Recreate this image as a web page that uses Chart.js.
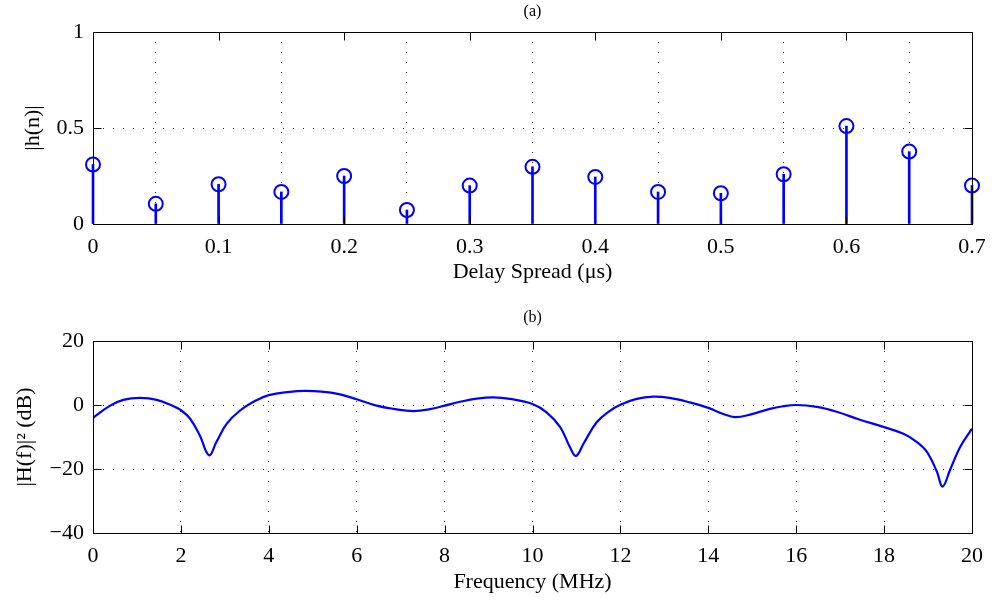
<!DOCTYPE html>
<html>
<head>
<meta charset="utf-8">
<script src="https://cdn.jsdelivr.net/npm/chart.js@4.4.1/dist/chart.umd.min.js"></script>
<style>
  html, body { margin: 0; padding: 0; background: #fff; }
  #wrap { position: relative; width: 996px; height: 601px; }
  .panel { position: absolute; left: 0; width: 996px; }
</style>
</head>
<body>
<div id="wrap">
  <div class="panel" style="top:0;height:300px"><canvas id="impulseChart"></canvas></div>
  <div class="panel" style="top:300px;height:301px"><canvas id="responseChart"></canvas></div>
</div>
<script>
// (a) channel impulse response taps
const delayUs = [0, 0.05, 0.1, 0.15, 0.2, 0.25, 0.3, 0.35, 0.4, 0.45, 0.5, 0.55, 0.6, 0.65, 0.7];
const tapMag = [0.31, 0.105, 0.207, 0.167, 0.25, 0.073, 0.2, 0.298, 0.245, 0.167, 0.16, 0.259, 0.51, 0.377, 0.2];
const delayTicks = [0, 0.1, 0.2, 0.3, 0.4, 0.5, 0.6, 0.7];
const magTicks = [0, 0.5, 1];

// (b) frequency response |H(f)|^2 in dB
const freqMHz = [0, 0.39, 0.69, 1.07, 1.45, 1.83, 2.0, 2.21, 2.43, 2.64, 2.81, 3.04, 3.34, 3.72, 4.0, 4.48, 4.8,
  5.2, 5.6, 6.0, 6.45, 6.83, 7.29, 7.67, 8.0, 8.35, 8.73, 9.11, 9.49, 10.0, 10.32, 10.63, 10.85, 10.99, 11.16, 11.46,
  11.76, 12.0, 12.37, 12.74, 13.12, 13.58, 14.0, 14.34, 14.61, 14.95, 15.4, 15.7, 16.0, 16.47, 16.92, 17.45, 18.0,
  18.44, 18.74, 18.97, 19.2, 19.33, 19.5, 19.73, 20.0];
const gainDb = [-4.0, -0.2, 1.6, 2.2, 1.6, -0.4, -1.6, -4.3, -9.5, -15.7, -11.5, -5.9, -1.8, 1.5, 3.1, 4.1, 4.4,
  4.2, 3.4, 1.8, -0.2, -1.2, -1.9, -1.3, -0.2, 1.0, 2.0, 2.4, 1.9, 0.3, -2.3, -6.9, -13.1, -15.9, -12.1, -5.4,
  -1.8, 0.1, 1.9, 2.6, 2.2, 0.8, -0.9, -2.8, -3.8, -3.0, -1.2, -0.4, 0.0, -0.6, -2.1, -4.6, -6.9,
  -9.0, -11.5, -14.6, -20.8, -25.5, -20.3, -13.1, -7.4];
const freqTicks = [0, 2, 4, 6, 8, 10, 12, 14, 16, 18, 20];
const dbTicks = [-40, -20, 0, 20];

const BLUE = '#0000ff';
const FONT = 'Liberation Serif';

// box round the plot area with inward ticks, plus the (a)/(b) label
const matlabFrame = {
  id: 'matlabFrame',
  afterDraw(chart, args, opts) {
    const { ctx, chartArea: a, scales } = chart;
    const L = Math.round(a.left) + 0.5, R = Math.round(a.right) + 0.5;
    const T = Math.round(a.top) + 0.5, B = Math.round(a.bottom) + 0.5;
    const len = 8;
    ctx.save();
    ctx.strokeStyle = '#000';
    ctx.lineWidth = 1;
    ctx.strokeRect(L, T, R - L, B - T);
    ctx.beginPath();
    scales.x.ticks.forEach(t => {
      const px = Math.round(scales.x.getPixelForValue(t.value)) + 0.5;
      ctx.moveTo(px, B); ctx.lineTo(px, B - len);
      ctx.moveTo(px, T); ctx.lineTo(px, T + len);
    });
    scales.y.ticks.forEach(t => {
      const py = Math.round(scales.y.getPixelForValue(t.value)) + 0.5;
      ctx.moveTo(L, py); ctx.lineTo(L + len, py);
      ctx.moveTo(R, py); ctx.lineTo(R - len, py);
    });
    ctx.stroke();
    ctx.fillStyle = '#000';
    ctx.font = '16px "' + FONT + '"';
    ctx.textAlign = 'center';
    ctx.textBaseline = 'middle';
    ctx.fillText(opts.label, (a.left + a.right) / 2, opts.labelY);
    ctx.restore();
  }
};

function axis(min, max, tickList, titleText, titlePad, size, isX) {
  return {
    type: 'linear',
    min: min,
    max: max,
    offset: false,
    afterBuildTicks: s => { s.ticks = tickList.map(v => ({ value: v })); },
    afterFit: s => { if (isX) s.height = size; else s.width = size; },
    grid: { color: '#333', lineWidth: 1, drawTicks: false },
    border: { display: false, dash: [1, 9] },
    ticks: {
      color: '#000',
      padding: isX ? 10 : 9,
      font: { family: FONT, size: 22 },
      callback: v => String(Math.round(v * 100) / 100).replace('-', '\u2212')
    },
    title: {
      display: true,
      text: titleText,
      color: '#000',
      font: { family: FONT, size: 22 },
      padding: isX ? { top: 0, bottom: titlePad } : { top: titlePad, bottom: 0 }
    }
  };
}

new Chart(document.getElementById('impulseChart'), {
  type: 'scatter',
  data: {
    datasets: [{
      type: 'bar',
      data: delayUs.map((d, i) => ({ x: d, y: tapMag[i] })),
      backgroundColor: BLUE,
      barThickness: 2,
      borderWidth: 0,
      clip: false,
      order: 2
    }, {
      type: 'scatter',
      data: delayUs.map((d, i) => ({ x: d, y: tapMag[i] })),
      pointRadius: 7,
      pointBorderWidth: 2,
      pointBorderColor: BLUE,
      pointBackgroundColor: 'rgba(0,0,0,0)',
      clip: false,
      order: 1
    }]
  },
  options: {
    responsive: true,
    maintainAspectRatio: false,
    animation: false,
    layout: { padding: { top: 32, right: 24, left: 0, bottom: 0 } },
    plugins: {
      legend: { display: false },
      tooltip: { enabled: false },
      matlabFrame: { label: '(a)', labelY: 12 }
    },
    scales: {
      x: axis(0, 0.7, delayTicks, 'Delay Spread (\u03bcs)', 15, 76, true),
      y: axis(0, 1, magTicks, '|h(n)|', 20, 93, false)
    }
  },
  plugins: [matlabFrame]
});

new Chart(document.getElementById('responseChart'), {
  type: 'scatter',
  data: {
    datasets: [{
      data: freqMHz.map((f, i) => ({ x: f, y: gainDb[i] })),
      showLine: true,
      borderColor: BLUE,
      borderWidth: 2.2,
      pointRadius: 0,
      tension: 0.4
    }]
  },
  options: {
    responsive: true,
    maintainAspectRatio: false,
    animation: false,
    layout: { padding: { top: 41, right: 24, left: 0, bottom: 0 } },
    plugins: {
      legend: { display: false },
      tooltip: { enabled: false },
      matlabFrame: { label: '(b)', labelY: 18 }
    },
    scales: {
      x: axis(0, 20, freqTicks, 'Frequency (MHz)', 6, 68, true),
      y: axis(-40, 20, dbTicks, '|H(f)|\u00b2 (dB)', 12, 93, false)
    }
  },
  plugins: [matlabFrame]
});
</script>
</body>
</html>
